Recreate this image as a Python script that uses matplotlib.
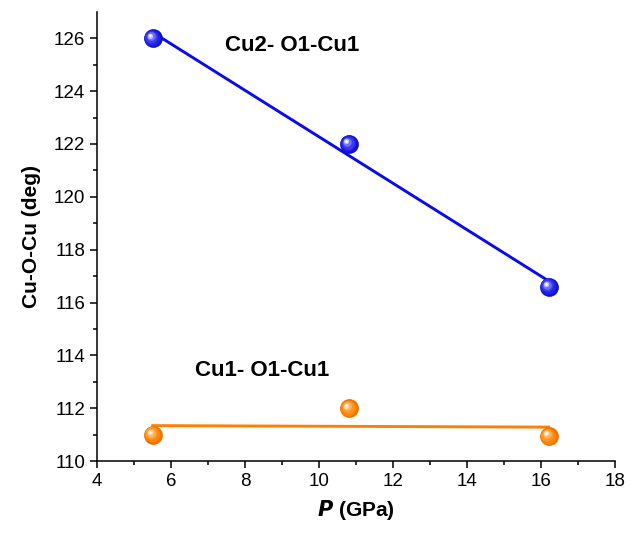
import matplotlib
matplotlib.use("Agg")
import matplotlib.pyplot as plt
import matplotlib.transforms as mtransforms
import numpy as np

plt.rcParams.update({
    "font.family": ["Liberation Sans", "DejaVu Sans"],
    "font.size": 13.5,
    "axes.linewidth": 1.1,
})

pressure = [5.5, 10.8, 16.2]
angle_cu2_o1_cu1 = [126.0, 122.0, 116.6]
angle_cu1_o1_cu1 = [111.0, 112.0, 110.95]

BLUE, ORANGE = "#0a0aef", "#ff8000"
SPHERE_BLUE = ["#1212c4", "#2020e2", "#3a3af4", "#7070fa", "#c0c0ff", "#ffffff"]
SPHERE_ORANGE = ["#ec7200", "#ff8200", "#ff9622", "#ffb25a", "#ffdcb2", "#ffffff"]


def sphere(ax, fig, x, y, shades):
    # shaded ball: stacked circles shrinking toward an upper-left highlight
    sizes = [13.5, 11.5, 9, 6.2, 3.8, 1.9]
    offs = [(0, 0), (-0.4, 0.4), (-0.9, 0.9), (-1.4, 1.4), (-1.9, 1.9), (-2.1, 2.1)]
    for s, c, (dx, dy) in zip(sizes, shades, offs):
        tr = mtransforms.offset_copy(ax.transData, fig=fig, x=dx, y=dy, units="points")
        ax.plot(x, y, "o", ms=s, color=c, mec="none", zorder=5, transform=tr)


fig = plt.figure(figsize=(6.31, 5.35), dpi=100)
ax = fig.add_axes([0.154, 0.138, 0.821, 0.84])

for ys, line_c, shades in [(angle_cu2_o1_cu1, BLUE, SPHERE_BLUE),
                           (angle_cu1_o1_cu1, ORANGE, SPHERE_ORANGE)]:
    k, b = np.polyfit(pressure, ys, 1)
    xf = np.array([pressure[0], pressure[-1]])
    ax.plot(xf, k * xf + b, color=line_c, lw=2.1, zorder=3)
    sphere(ax, fig, pressure, ys, shades)

ax.text(7.45, 125.74, "Cu2- O1-Cu1", fontsize=16, fontweight="bold", va="center")
ax.text(6.65, 113.43, "Cu1- O1-Cu1", fontsize=16, fontweight="bold", va="center")

ax.set_xlim(4, 18)
ax.set_ylim(110, 127)
ax.set_xticks(np.arange(4, 19, 2))
ax.set_yticks(np.arange(110, 127, 2))
ax.set_xticks(np.arange(5, 18, 2), minor=True)
ax.set_yticks(np.arange(111, 127, 2), minor=True)
ax.tick_params(which="major", length=5, width=1.1, labelsize=13.5)
ax.tick_params(which="minor", length=2.6, width=1.1)
for s in ("top", "right"):
    ax.spines[s].set_visible(False)

ax.set_xlabel(r"$\bfit{P}$ (GPa)", fontsize=15, fontweight="bold", labelpad=6)
ax.set_ylabel("Cu-O-Cu (deg)", fontsize=15, fontweight="bold", labelpad=9)

fig.savefig("out.png", dpi=100)
